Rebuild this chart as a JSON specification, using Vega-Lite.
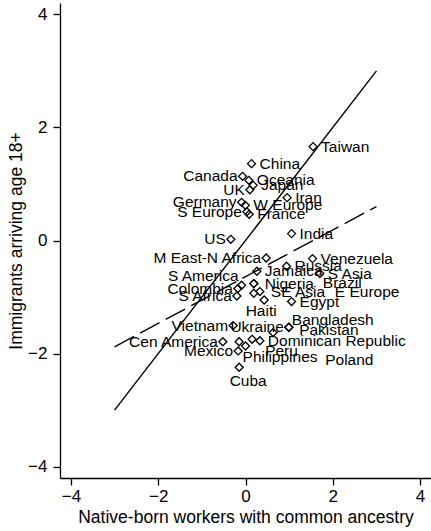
{
  "$schema": "https://vega.github.io/schema/vega-lite/v6.json",
  "width": 371,
  "height": 475,
  "autosize": {"type": "none"},
  "padding": {"left": 60, "top": 3, "right": 0, "bottom": 53},
  "background": "white",
  "config": {
    "view": {"stroke": null},
    "font": "Liberation Sans",
    "text": {"font": "Liberation Sans", "fontSize": 15.5, "color": "black", "baseline": "middle"},
    "axis": {
      "grid": false,
      "domainColor": "black",
      "domainWidth": 1.3,
      "tickColor": "black",
      "tickWidth": 1.3,
      "tickSize": 7,
      "labelFont": "Liberation Sans",
      "labelFontSize": 17,
      "labelColor": "black",
      "titleFont": "Liberation Sans",
      "titleFontSize": 17.5,
      "titleFontWeight": "normal",
      "titleColor": "black",
      "labelFlush": false,
      "labelOverlap": false
    }
  },
  "datasets": {
    "countries": [
      {"country": "Taiwan", "native": 1.549, "imm": 1.66},
      {"country": "China", "native": 0.139, "imm": 1.359},
      {"country": "Canada", "native": -0.068, "imm": 1.135},
      {"country": "Oceania", "native": 0.077, "imm": 1.064},
      {"country": "Japan", "native": 0.175, "imm": 0.976},
      {"country": "UK", "native": 0.1, "imm": 0.896},
      {"country": "Iran", "native": 0.954, "imm": 0.758},
      {"country": "Germany", "native": -0.09, "imm": 0.675},
      {"country": "W Europe", "native": -0.003, "imm": 0.622},
      {"country": "S Europe", "native": 0.031, "imm": 0.507},
      {"country": "France", "native": 0.084, "imm": 0.463},
      {"country": "India", "native": 1.055, "imm": 0.122},
      {"country": "US", "native": -0.336, "imm": 0.021},
      {"country": "M East-N Africa", "native": 0.473, "imm": -0.309},
      {"country": "Venezuela", "native": 1.536, "imm": -0.32},
      {"country": "Russia", "native": 0.94, "imm": -0.456},
      {"country": "Jamaica", "native": 0.26, "imm": -0.544},
      {"country": "S Asia", "native": 1.703, "imm": -0.585},
      {"country": "S America", "native": -0.09, "imm": -0.792},
      {"country": "Colombia", "native": -0.175, "imm": -0.85},
      {"country": "S Africa", "native": -0.198, "imm": -0.981},
      {"country": "Nigeria", "native": 0.191, "imm": -0.762},
      {"country": "Brazil", "native": 0.191, "imm": -0.762},
      {"country": "SE Asia", "native": 0.329, "imm": -0.903},
      {"country": "E Europe", "native": 0.191, "imm": -0.933},
      {"country": "Egypt", "native": 1.055, "imm": -1.08},
      {"country": "Haiti", "native": 0.427, "imm": -1.052},
      {"country": "Vietnam", "native": -0.283, "imm": -1.504},
      {"country": "Ukraine", "native": 0.993, "imm": -1.534},
      {"country": "Bangladesh", "native": 0.993, "imm": -1.534},
      {"country": "Pakistan", "native": 0.633, "imm": -1.628},
      {"country": "Cen America", "native": -0.519, "imm": -1.79},
      {"country": "Dominican Republic", "native": 0.329, "imm": -1.773},
      {"country": "Peru", "native": 0.152, "imm": -1.746},
      {"country": "Philippines", "native": 0.001, "imm": -1.865},
      {"country": "Mexico", "native": -0.168, "imm": -1.953},
      {"country": "Poland", "native": -0.145, "imm": -1.79},
      {"country": "Cuba", "native": -0.145, "imm": -2.241}
    ],
    "fits": [
      {"fit": "45-degree line", "native": -3, "imm": -3},
      {"fit": "45-degree line", "native": 3, "imm": 3},
      {"fit": "linear fit", "native": -3, "imm": -1.88},
      {"fit": "linear fit", "native": 3, "imm": 0.6}
    ]
  },
  "encoding": {
    "x": {
      "field": "native",
      "type": "quantitative",
      "scale": {"domain": [-4.25, 4.25], "nice": false, "zero": false},
      "axis": {"values": [-4, -2, 0, 2, 4], "title": "Native-born workers with common ancestry", "labelPadding": 3, "titlePadding": 4}
    },
    "y": {
      "field": "imm",
      "type": "quantitative",
      "scale": {"domain": [-4.2, 4.2], "nice": false, "zero": false},
      "axis": {"values": [-4, -2, 0, 2, 4], "title": "Immigrants arriving age 18+", "labelPadding": 6, "titlePadding": 2}
    }
  },
  "layer": [
    {
      "data": {"name": "fits"},
      "transform": [{"filter": "datum.fit === '45-degree line'"}],
      "mark": {"type": "line", "color": "black", "strokeWidth": 1.4}
    },
    {
      "data": {"name": "fits"},
      "transform": [{"filter": "datum.fit === 'linear fit'"}],
      "mark": {"type": "line", "color": "black", "strokeWidth": 1.4, "strokeDash": [22, 7]}
    },
    {
      "data": {"name": "countries"},
      "mark": {"type": "point", "shape": "diamond", "size": 64, "filled": false, "stroke": "black", "strokeWidth": 1.3, "opacity": 1}
    },
    {
      "data": {"name": "countries"},
      "transform": [{"filter": {"field": "country", "oneOf": ["Taiwan", "China", "Oceania", "Japan", "Iran", "W Europe", "France", "India", "Venezuela", "Russia", "Jamaica", "S Asia", "Egypt", "Dominican Republic"]}}],
      "mark": {"type": "text", "align": "left", "dx": 8},
      "encoding": {"text": {"field": "country"}}
    },
    {
      "data": {"name": "countries"},
      "transform": [{"filter": {"field": "country", "oneOf": ["Nigeria", "SE Asia"]}}],
      "mark": {"type": "text", "align": "left", "dx": 11},
      "encoding": {"text": {"field": "country"}}
    },
    {
      "data": {"name": "countries"},
      "transform": [{"filter": {"field": "country", "oneOf": ["Brazil"]}}],
      "mark": {"type": "text", "align": "left", "dx": 69, "dy": -1},
      "encoding": {"text": {"field": "country"}}
    },
    {
      "data": {"name": "countries"},
      "transform": [{"filter": {"field": "country", "oneOf": ["E Europe"]}}],
      "mark": {"type": "text", "align": "left", "dx": 81, "dy": -1},
      "encoding": {"text": {"field": "country"}}
    },
    {
      "data": {"name": "countries"},
      "transform": [{"filter": {"field": "country", "oneOf": ["Canada", "UK", "Germany", "S Europe", "US", "M East-N Africa", "Colombia", "S Africa", "Vietnam", "Ukraine", "Cen America", "Mexico"]}}],
      "mark": {"type": "text", "align": "right", "dx": -5},
      "encoding": {"text": {"field": "country"}}
    },
    {
      "data": {"name": "countries"},
      "transform": [{"filter": {"field": "country", "oneOf": ["S America"]}}],
      "mark": {"type": "text", "align": "right", "dx": -3, "dy": -9},
      "encoding": {"text": {"field": "country"}}
    },
    {
      "data": {"name": "countries"},
      "transform": [{"filter": {"field": "country", "oneOf": ["Haiti"]}}],
      "mark": {"type": "text", "align": "center", "dx": -3, "dy": 11},
      "encoding": {"text": {"field": "country"}}
    },
    {
      "data": {"name": "countries"},
      "transform": [{"filter": {"field": "country", "oneOf": ["Cuba"]}}],
      "mark": {"type": "text", "align": "center", "dx": 9, "dy": 13.5},
      "encoding": {"text": {"field": "country"}}
    },
    {
      "data": {"name": "countries"},
      "transform": [{"filter": {"field": "country", "oneOf": ["Bangladesh"]}}],
      "mark": {"type": "text", "align": "left", "dx": 3, "dy": -7},
      "encoding": {"text": {"field": "country"}}
    },
    {
      "data": {"name": "countries"},
      "transform": [{"filter": {"field": "country", "oneOf": ["Pakistan"]}}],
      "mark": {"type": "text", "align": "left", "dx": 26, "dy": -3},
      "encoding": {"text": {"field": "country"}}
    },
    {
      "data": {"name": "countries"},
      "transform": [{"filter": {"field": "country", "oneOf": ["Peru"]}}],
      "mark": {"type": "text", "align": "left", "dx": 13, "dy": 12},
      "encoding": {"text": {"field": "country"}}
    },
    {
      "data": {"name": "countries"},
      "transform": [{"filter": {"field": "country", "oneOf": ["Philippines"]}}],
      "mark": {"type": "text", "align": "left", "dx": -3, "dy": 11},
      "encoding": {"text": {"field": "country"}}
    },
    {
      "data": {"name": "countries"},
      "transform": [{"filter": {"field": "country", "oneOf": ["Poland"]}}],
      "mark": {"type": "text", "align": "left", "dx": 86, "dy": 18},
      "encoding": {"text": {"field": "country"}}
    }
  ]
}
